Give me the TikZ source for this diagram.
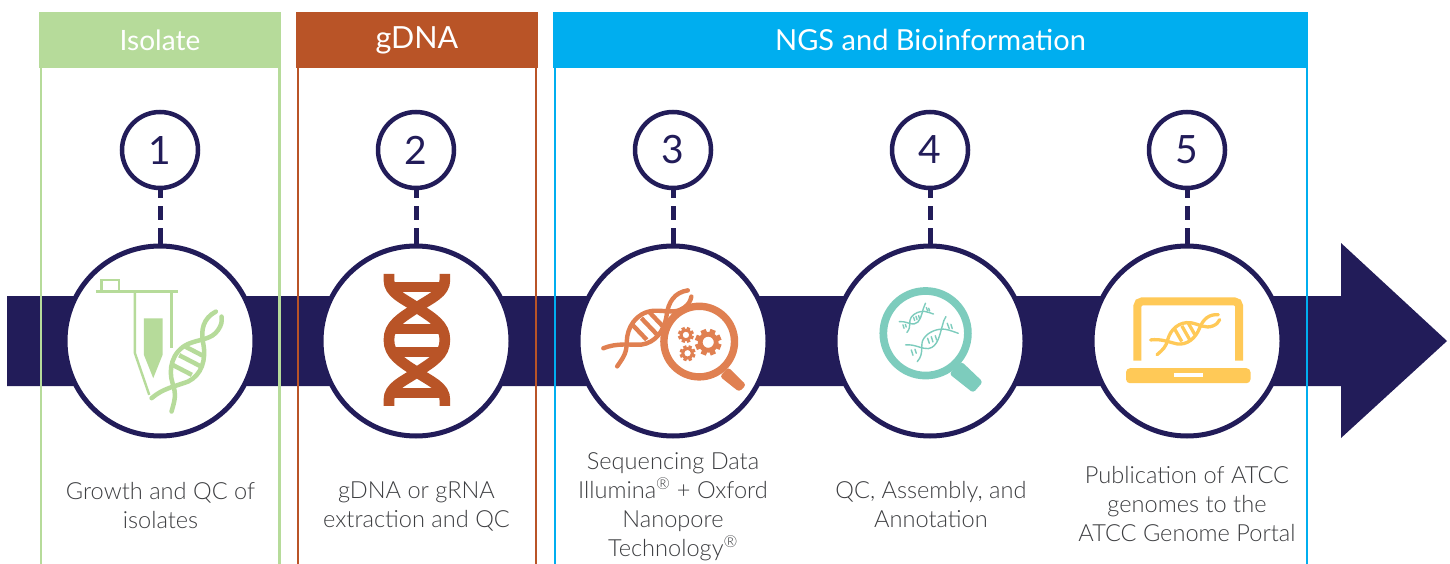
\documentclass[tikz,border=0pt]{standalone}
\usepackage{fontspec}
\setmainfont{Lato}
\newfontfamily\lightf{Lato Light}
\definecolor{navy}{HTML}{221C59}
\definecolor{cgreen}{HTML}{B6DB9A}
\definecolor{cbrown}{HTML}{B95427}
\definecolor{cblue}{HTML}{00AEEF}
\definecolor{corange}{HTML}{E08051}
\definecolor{cteal}{HTML}{7DCCBD}
\definecolor{cyellow}{HTML}{FFC957}
\definecolor{ctext}{HTML}{3C3D40}
\tikzset{
  hdr/.style={fill=#1,text=white,inner sep=0pt,minimum height=56pt,font=\fontsize{29}{34}\selectfont},
  numc/.style={circle,draw=navy,line width=4.5pt,fill=white,minimum size=76pt,inner sep=0pt,outer sep=0pt,text=navy,font=\fontsize{39}{44}\selectfont},
  bigc/.style={circle,draw=navy,line width=5pt,fill=white,minimum size=190pt,inner sep=0pt,outer sep=0pt},
  captxt/.style={align=center,text=ctext,font=\lightf\fontsize{23.6}{29}\selectfont},
  dashc/.style={draw=navy,line width=5pt,dash pattern=on 10pt off 8pt on 14pt off 8pt on 30pt},
  side/.style={draw=#1,line width=2.6pt}
}
% helix drawn in a local frame whose origin is the left strand end
\newcommand{\helixicon}[2]{%
  \begin{scope}[shift={(-275,-475)},line cap=round,line width=#2,draw=#1]
    \draw (275,475) .. controls (310,445) and (345,440) .. (385,425) .. controls (425,405) and (440,360) .. (430,310) .. controls (422,270) and (430,235) .. (468,215);
    \draw (335,515) .. controls (345,480) and (350,465) .. (338,430) .. controls (325,390) and (335,335) .. (385,312) .. controls (420,297) and (455,300) .. (475,270) .. controls (485,255) and (487,245) .. (485,230);
    \draw[line cap=butt] (376,320) -- (428,347) (358,346) -- (420,378) (340,376) -- (396,405);
  \end{scope}}
\newcommand{\thinhelix}{%
  \begin{scope}[shift={(-137,-225)},line cap=round]
    \draw (137,225) .. controls (165,222) and (185,238) .. (205,236) .. controls (235,232) and (240,190) .. (248,165) .. controls (250,155) and (253,148) .. (258,140);
    \draw (172,275) .. controls (195,250) and (178,222) .. (192,205) .. controls (205,185) and (235,175) .. (255,178) .. controls (270,180) and (285,187) .. (295,190);
    \draw (154,240) -- (159,256) (165,238) -- (169,250) (203,205) -- (208,220) (214,200) -- (219,216) (226,197) -- (230,210) (262,160) -- (268,176) (273,163) -- (277,176);
  \end{scope}}
\newcommand{\gearicon}[4]{% x y r colour, in the current scaled frame
  \foreach \a in {0,45,...,315}{
    \draw[#4,line width=#3*0.14pt,line cap=butt] ({#1+#3*0.7*cos(\a+22)},{#2+#3*0.7*sin(\a+22)}) -- ({#1+#3*cos(\a+22)},{#2+#3*sin(\a+22)});
  }
  \draw[#4,line width=#3*0.117pt] (#1,#2) circle[radius=#3*0.6];
}
\begin{document}
\begin{tikzpicture}[x=1pt,y=-1pt]
\useasboundingbox (0,0) rectangle (1450,564);
% arrow
\fill[navy] (7,296) -- (1341,296) -- (1341,243) -- (1447,341) -- (1341,438) -- (1341,386) -- (7,386) -- cycle;
% frames
\draw[side=cgreen] (40.8,60) -- (40.8,564);
\draw[side=cgreen] (279.5,60) -- (279.5,564);
\draw[side=cbrown] (298,60) -- (298,564);
\draw[side=cbrown] (536,60) -- (536,564);
\draw[side=cblue] (554.8,60) -- (554.8,564);
\draw[side=cblue] (1307,60) -- (1307,564);
\node[hdr=cgreen,minimum width=242pt,font=\fontsize{28}{34}\selectfont] (h1) at (160,40) {Isolate};
\node[hdr=cbrown,minimum width=242pt,font=\fontsize{30.5}{34}\selectfont] (h2) at (417,40) {gDNA};
\node[hdr=cblue,minimum width=755pt] (h3) at (930.5,40) {NGS and Bioinformation};
% big circles and numbers
\foreach \n/\x in {1/160,2/416,3/673,4/930,5/1187}{
  \node[bigc] (b\n) at (\x,341) {};
  \node[numc] (s\n) at (\x,150) {\n};
}
\foreach \n in {1,...,5}{
  \draw[dashc] (s\n.south) -- (b\n.north);
}
% icon 1: tube and helix
\begin{scope}[shift={(60,240)},x=0.333pt,y=-0.333pt]
  \draw[cgreen,line width=2.4pt] (125,155) -- (125,120) -- (178,120) -- (178,155);
  \draw[cgreen,line width=2.4pt] (108,155) -- (355,155);
  \draw[cgreen,line width=2.4pt] (225,155) -- (225,340) -- (268,465);
  \draw[cgreen,line width=2.4pt] (335,155) -- (335,325);
  \fill[cgreen] (252,235) -- (308,235) -- (308,345) -- (280,415) -- (252,345) -- cycle;
  \begin{scope}[shift={(275,475)}]
    \helixicon{cgreen}{4.5pt}
  \end{scope}
\end{scope}
% icon 2: double helix
\begin{scope}[shift={(320,240)},x=0.333pt,y=-0.333pt]
  \draw[cbrown,line width=10.7pt] (207,102) -- (207,120) .. controls (207,160) and (250,175) .. (291,203) .. controls (340,235) and (375,255) .. (375,300) .. controls (375,345) and (340,365) .. (291,397) .. controls (250,425) and (207,440) .. (207,480) -- (207,498);
  \draw[cbrown,line width=10.7pt] (375,102) -- (375,120) .. controls (375,160) and (332,175) .. (291,203) .. controls (242,235) and (207,255) .. (207,300) .. controls (207,345) and (242,365) .. (291,397) .. controls (332,425) and (375,440) .. (375,480) -- (375,498);
  \draw[cbrown,line width=10pt] (207,140) -- (375,140) (207,266) -- (375,266) (207,335) -- (375,335) (207,460) -- (375,460);
\end{scope}
% icon 3: helix, magnifier, gears
\begin{scope}[shift={(580,260)},x=0.333pt,y=-0.333pt]
  \begin{scope}[shift={(70,265)},rotate=-19,scale=0.95]
    \helixicon{corange}{4.4pt}
  \end{scope}
  \filldraw[corange,fill=white,line width=7.4pt] (358,245) circle[radius=106];
  \fill[corange,rounded corners=3pt] (445,322) -- (499,375) -- (478,396) -- (420,350) -- cycle;
  \gearicon{385}{247}{40}{corange}
  \gearicon{318}{225}{24}{corange}
  \gearicon{323}{280}{24}{corange}
\end{scope}
% icon 4: magnifier with two helices
\begin{scope}[shift={(860,270)},x=0.333pt,y=-0.333pt]
  \fill[cteal,rounded corners=3pt] (305,275) -- (369,336) -- (340,369) -- (268,312) -- cycle;
  \filldraw[cteal,fill=white,line width=7.7pt] (197,190) circle[radius=127];
  \begin{scope}[draw=cteal,line width=1.4pt]
    \begin{scope}[shift={(137,225)}]\thinhelix\end{scope}
    \begin{scope}[shift={(118,155)},scale=0.65]\thinhelix\end{scope}
  \end{scope}
\end{scope}
% icon 5: laptop
\begin{scope}[shift={(1110,280)},x=0.333pt,y=-0.333pt]
  \draw[cyellow,line width=8pt,rounded corners=5pt] (82,242) -- (82,64) -- (388,64) -- (388,242);
  \fill[cyellow,rounded corners=4pt] (48,265) -- (422,265) -- (422,310) -- (48,310) -- cycle;
  \fill[white] (192,280) rectangle (278,290);
  \begin{scope}[shift={(122,180)},rotate=-33,scale=0.67]
    \helixicon{cyellow}{3.3pt}
  \end{scope}
\end{scope}
% captions
\node[captxt] (t1) at (160.5,505.5) {Growth and QC of\\isolates};
\node[captxt] (t2) at (416.5,506) {gDNA or gRNA\\extraction and QC};
\node[captxt] (t3) at (673,506.5) {Sequencing Data\\Illumina\textsuperscript{®} + Oxford\\Nanopore\\Technology\textsuperscript{®}};
\node[captxt] (t4) at (931,505) {QC, Assembly, and\\Annotation};
\node[captxt] (t5) at (1187,504) {Publication of ATCC\\genomes to the\\ATCC Genome Portal};
\end{tikzpicture}
\end{document}
